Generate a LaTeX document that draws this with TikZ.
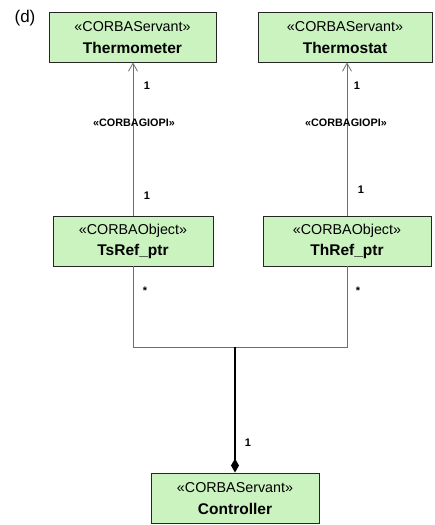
\documentclass[tikz,border=0pt]{standalone}
\usepackage{fontspec}
\setmainfont{Liberation Sans}
\usetikzlibrary{arrows.meta}
\definecolor{boxfill}{RGB}{202,243,192}
\definecolor{linegray}{RGB}{110,110,110}
\tikzset{
  umlbox/.style={draw=black!85, line width=0.9pt, fill=boxfill, rectangle,
    inner sep=0pt, minimum height=50pt},
  stereo/.style={font=\fontsize{14.3}{14.3}\selectfont, inner sep=0pt},
  cname/.style={font=\fontsize{15.5}{15.5}\selectfont\bfseries, inner sep=0pt},
  mult/.style={font=\fontsize{11}{11}\selectfont\bfseries, inner sep=0pt},
  deplabel/.style={font=\fontsize{10.8}{10.8}\selectfont\bfseries, inner sep=0pt},
  assoc/.style={draw=linegray, line width=0.8pt},
  navarrow/.style={assoc, -{Straight Barb[length=8pt,width=9pt,line width=0.8pt]}},
  compose/.style={draw=black, line width=1.3pt,
    -{Diamond[length=14pt,width=8pt,fill=black]}}
}
\begin{document}
\begin{tikzpicture}[x=1pt,y=-1pt]
\useasboundingbox (0,0) rectangle (435,525);

% panel tag
\node[font=\fontsize{17}{17}\selectfont, inner sep=0pt] (tag) at (25,18) {(d)};

% classes
\node[umlbox, minimum width=167pt] (tm) at (132.5,37) {};
\node[stereo] (tmS) at ([yshift=-15pt]tm.north) {«CORBAServant»};
\node[cname]  (tmN) at ([yshift=-36pt]tm.north) {Thermometer};

\node[umlbox, minimum width=174pt] (ts) at (345,37) {};
\node[stereo] (tsS) at ([yshift=-15pt]ts.north) {«CORBAServant»};
\node[cname]  (tsN) at ([yshift=-36pt]ts.north) {Thermostat};

\node[umlbox, minimum width=160pt] (tsr) at (133,241) {};
\node[stereo] (tsrS) at ([yshift=-15pt]tsr.north) {«CORBAObject»};
\node[cname]  (tsrN) at ([yshift=-36pt]tsr.north) {TsRef\_ptr};

\node[umlbox, minimum width=168pt] (thr) at (347,241) {};
\node[stereo] (thrS) at ([yshift=-15pt]thr.north) {«CORBAObject»};
\node[cname]  (thrN) at ([yshift=-36pt]thr.north) {ThRef\_ptr};

\node[umlbox, minimum width=168pt] (ctl) at (235,498) {};
\node[stereo] (ctlS) at ([yshift=-15pt]ctl.north) {«CORBAServant»};
\node[cname]  (ctlN) at ([yshift=-36pt]ctl.north) {Controller};

% junction points of the aggregated association
\coordinate (jl) at (133,347);
\coordinate (jr) at (347,347);
\coordinate (jm) at (235,347);

% navigable GIOP links
\draw[navarrow] (tsr.north) -- (tsr.north |- tm.south);
\draw[navarrow] (thr.north) -- (thr.north |- ts.south);

\node[mult] (m1) at (147,86) {1};
\node[mult] (m2) at (147,196) {1};
\node[deplabel] (g1) at (134,123) {«CORBAGIOPI»};
\node[mult] (m3) at (357,86) {1};
\node[mult] (m4) at (361,190) {1};
\node[deplabel] (g2) at (346,123) {«CORBAGIOPI»};

% references collected by the controller
\draw[assoc] (tsr.south) -- (jl) -- (jr) -- (thr.south);
\draw[compose] (jm) -- (ctl.north);

\node[mult] (s1) at (145,291) {*};
\node[mult] (s2) at (358,291) {*};
\node[mult] (m5) at (248,443) {1};
\end{tikzpicture}
\end{document}
